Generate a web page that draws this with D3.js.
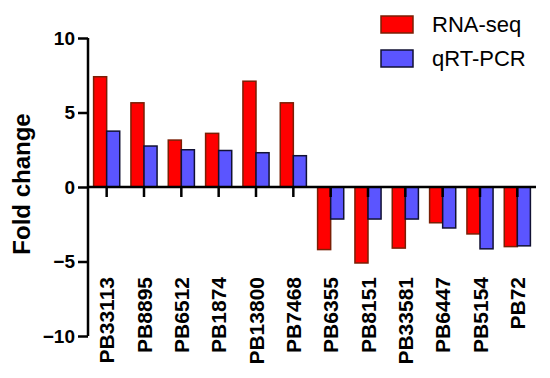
<!DOCTYPE html>
<html><head><meta charset="utf-8">
<script src="https://cdn.jsdelivr.net/npm/d3@7"></script>
<style>body{margin:0;background:#fff}svg{display:block}</style>
</head><body>
<svg id="c" width="550" height="378"></svg>
<script>
const categories = ["PB33113","PB8895","PB6512","PB1874","PB13800","PB7468","PB6355","PB8151","PB33581","PB6447","PB5154","PB72"];
const rnaSeq = [7.4, 5.65, 3.15, 3.6, 7.1, 5.65, -4.2, -5.1, -4.1, -2.4, -3.15, -4.0];
const qrtPcr = [3.75, 2.75, 2.5, 2.45, 2.3, 2.1, -2.15, -2.15, -2.15, -2.75, -4.15, -3.95];
const yTicks = [-10, -5, 0, 5, 10];
const seriesNames = ["RNA-seq", "qRT-PCR"];

const svg = d3.select("#c");
const font = "'Liberation Sans', Arial, sans-serif";
const mLeft = 88, mRight = 536, mTop = 38, mBottom = 336;

const x = d3.scaleBand().domain(categories).range([mLeft, mRight]).paddingInner(0.3).paddingOuter(0.15);
const xs = d3.scaleBand().domain(seriesNames).range([0, x.bandwidth()]);
const y = d3.scaleLinear().domain([-10, 10]).range([mBottom, mTop]);

const colors = {"RNA-seq": {fill: "#ff0000", stroke: "#7a1f05"}, "qRT-PCR": {fill: "#5b55ff", stroke: "#111133"}};
const series = [{name: "RNA-seq", values: rnaSeq}, {name: "qRT-PCR", values: qrtPcr}];

// bars
series.forEach(s => {
  svg.append("g").selectAll("rect").data(categories).join("rect")
    .attr("x", (d) => x(d) + xs(s.name))
    .attr("width", xs.bandwidth())
    .attr("y", (d, i) => y(Math.max(0, s.values[i])))
    .attr("height", (d, i) => Math.abs(y(s.values[i]) - y(0)))
    .attr("fill", colors[s.name].fill)
    .attr("stroke", colors[s.name].stroke)
    .attr("stroke-width", 1.5);
});

// y axis
const yAxis = svg.append("g").attr("transform", `translate(${mLeft},0)`)
  .call(d3.axisLeft(y).tickValues(yTicks).tickSize(10).tickPadding(3).tickFormat(d3.format("d")));
yAxis.select(".domain").attr("stroke", "#000").attr("stroke-width", 2.5).attr("d", `M0,${mTop}V${mBottom}`);
yAxis.selectAll(".tick line").attr("stroke", "#000").attr("stroke-width", 2.5);
yAxis.selectAll(".tick text").attr("font-family", font).attr("font-size", 19).attr("font-weight", "bold").attr("fill", "#000");

// x axis at zero
const xAxis = svg.append("g").attr("transform", `translate(0,${y(0)})`)
  .call(d3.axisBottom(x).tickSize(10).tickPadding(0));
xAxis.select(".domain").attr("stroke", "#000").attr("stroke-width", 2.5).attr("d", `M${mLeft},0H${mRight}`);
xAxis.selectAll(".tick line").attr("stroke", "#000").attr("stroke-width", 2.5);
xAxis.selectAll(".tick text").remove();

// x labels
svg.append("g").selectAll("text").data(categories).join("text")
  .attr("transform", d => `translate(${x(d) + x.bandwidth() / 2},277) rotate(-90)`)
  .attr("text-anchor", "end").attr("dy", "0.36em")
  .attr("font-family", font).attr("font-size", 21).attr("font-weight", "bold").attr("fill", "#000")
  .text(d => d);

// y title
svg.append("text")
  .attr("transform", `translate(30,184) rotate(-90)`)
  .attr("text-anchor", "middle")
  .attr("font-family", font).attr("font-size", 24).attr("font-weight", "bold").attr("fill", "#000")
  .text("Fold change");

// legend
const leg = svg.append("g");
seriesNames.forEach((n, i) => {
  leg.append("rect").attr("x", 381).attr("y", 16 + i * 34).attr("width", 32).attr("height", 17)
    .attr("fill", colors[n].fill).attr("stroke", colors[n].stroke).attr("stroke-width", 1.5);
  leg.append("text").attr("x", 432).attr("y", 32 + i * 34)
    .attr("font-family", font).attr("font-size", 22).attr("fill", "#000").text(n);
});
</script>
</body></html>
